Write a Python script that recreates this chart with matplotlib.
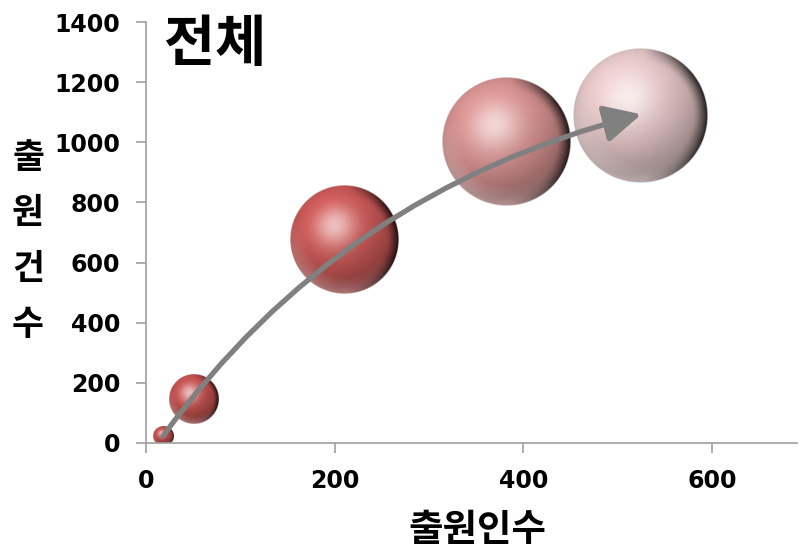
import numpy as np
import matplotlib
matplotlib.use("Agg")
import matplotlib.pyplot as plt
from matplotlib.path import Path
from matplotlib.patches import FancyArrowPatch

# 출원인수 (x), 출원건수 (y), bubble size
applicants = [18, 51, 210, 382, 524]
filings = [23, 146, 676, 1000, 1088]
sizes = [2.2, 13.7, 64, 90, 100]
colors = ["#BF4E4B", "#C45250", "#CC5A58", "#D99493", "#E8C9C9"]

x_ticks = [0, 200, 400, 600]
y_ticks = [0, 200, 400, 600, 800, 1000, 1200, 1400]

W, H, DPI = 799, 553, 100
fig = plt.figure(figsize=(W / DPI, H / DPI), dpi=DPI)
ax = fig.add_axes([146 / W, 1 - 443 / H, (797 - 146) / W, 421 / H])

xmin, xmax, ymin, ymax = 0, 690, 0, 1400
px_x = ax.bbox.width / (xmax - xmin)
px_y = ax.bbox.height / (ymax - ymin)


def sphere(color, n=256):
    """RGBA image of a shaded glossy ball."""
    base = np.array(matplotlib.colors.to_rgb(color))
    t = np.linspace(-1, 1, n)
    xx, yy = np.meshgrid(t, -t)
    rr = np.sqrt(xx ** 2 + yy ** 2)
    rs = np.maximum(rr, 1e-6)
    nz = np.sqrt(np.clip(1 - rr ** 2, 0, 1))
    L = np.array([-0.35, 0.5, 0.8])
    L = L / np.linalg.norm(L)
    diff = np.clip(xx * L[0] + yy * L[1] + nz * L[2], 0, 1)
    Hv = L + np.array([0, 0, 1.0])
    Hv = Hv / np.linalg.norm(Hv)
    spec = np.clip(xx * Hv[0] + yy * Hv[1] + nz * Hv[2], 0, 1) ** 14
    shade = 0.66 + 0.38 * diff
    # dark band on the right-hand edge
    edge = np.clip((rr - 0.78) / 0.22, 0, 1) ** 1.5 * np.clip(1.4 * xx / rs - 0.1, 0, 1)
    shade = shade * (1 - 0.8 * edge)
    # light bounced back along the lower rim
    refl = np.clip((rr - 0.7) / 0.3, 0, 1) * np.clip(-yy / rs - 0.4 * xx / rs, 0, 1)
    rgb = base[None, None, :] * shade[..., None]
    rgb = rgb + (1 - rgb) * (spec[..., None] * 0.6 + refl[..., None] * 0.3)
    rgb = np.clip(rgb, 0, 1)
    alpha = np.clip((1 - rr) * n / 2, 0, 1)
    return np.dstack([rgb, alpha])


r_max = 67.5
for x, y, s, c in zip(applicants, filings, sizes, colors):
    r = r_max * np.sqrt(s / max(sizes))
    rx, ry = r / px_x, r / px_y
    ax.imshow(sphere(c), extent=(x - rx, x + rx, y - ry, y + ry),
              aspect="auto", interpolation="bilinear", zorder=2)

# trend arrow through the bubbles
trend = Path([(18, 23), (205, 835), (525, 1093)],
             [Path.MOVETO, Path.CURVE3, Path.CURVE3])
arrow = FancyArrowPatch(path=trend, arrowstyle="-|>,head_length=0.4,head_width=0.2",
                        mutation_scale=56, color="#808080", lw=3.8,
                        shrinkA=0, shrinkB=0, zorder=3)
ax.add_patch(arrow)

ax.set_xlim(xmin, xmax)
ax.set_ylim(ymin, ymax)
ax.set_xticks(x_ticks)
ax.set_yticks(y_ticks)
for sp in ["top", "right"]:
    ax.spines[sp].set_visible(False)
for sp in ["left", "bottom"]:
    ax.spines[sp].set_color("#A0A0A0")
    ax.spines[sp].set_linewidth(1.2)
ax.tick_params(length=7.5, width=1.2, color="#A0A0A0", pad=11)
for lab in ax.get_xticklabels() + ax.get_yticklabels():
    lab.set_fontsize(17)
    lab.set_fontweight("bold")
    lab.set_fontfamily("DejaVu Sans")

kr = ["Noto Sans CJK KR", "DejaVu Sans"]
fig.text(215 / W, 1 - 45 / H, "전체", family=kr, fontsize=40, fontweight="bold",
         style="italic", ha="center", va="center")
fig.text(477 / W, 1 - 530 / H, "출원인수", family=kr, fontsize=27,
         fontweight="bold", ha="center", va="center")
for ch, yc in zip("출원건수", [157, 213, 269, 325]):
    fig.text(28 / W, 1 - yc / H, ch, family=kr, fontsize=25, fontweight="bold",
             ha="center", va="center")

fig.savefig("out.png", dpi=DPI)
